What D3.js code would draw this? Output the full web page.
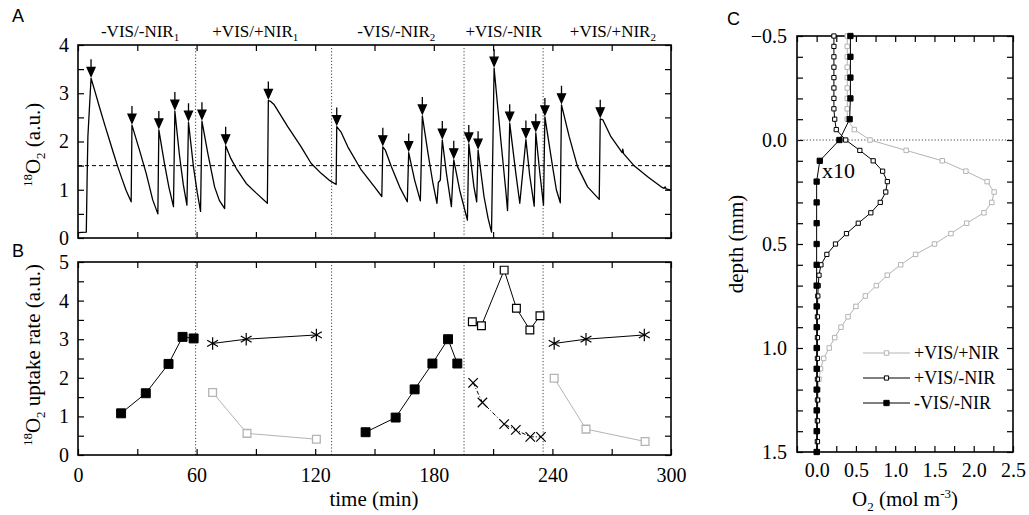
<!DOCTYPE html>
<html>
<head>
<meta charset="utf-8">
<script src="https://cdn.jsdelivr.net/npm/d3@7"></script>
<style>
  body { margin: 0; background: #fff; }
  svg text { font-family: "Liberation Serif", Tinos, "Times New Roman", "DejaVu Serif", serif; fill: #000; }
  svg text.letter { font-family: "Liberation Sans", Arimo, Arial, sans-serif; font-size: 18px; }
</style>
</head>
<body>
<svg id="svg" width="1029" height="515"></svg>
<script>
// ---- panel A: 18O2 signal [time (min), a.u.] ----
const trace = [
  [0,0.11],[4.2,0.12],[4.6,1.2],[5.0,2.1],[6.6,3.31],
  [8.5,3.05],[10.8,2.72],[13.5,2.35],[15.9,2.03],[18,1.75],[20.1,1.48],[22.3,1.22],[24.3,0.99],[26.9,0.75],
  [27.3,2.34],[29.2,2.08],[31.1,1.82],[34.5,1.34],[37.8,0.79],[40.4,0.5],
  [40.9,2.24],[43.7,1.55],[46,1.05],[48.3,0.65],
  [49.0,2.63],[51.4,1.69],[53.3,1.1],[55.1,0.68],
  [55.9,2.4],[58.4,1.48],[60.3,0.95],[62.0,0.55],
  [62.7,2.42],[65.7,1.75],[69.1,1.06],[71.5,0.78],[74.2,0.61],
  [74.7,1.91],[77.3,1.65],[80.1,1.44],[85.1,1.13],[90.2,0.93],[95.8,0.72],
  [96.3,2.85],[97.5,2.83],[99.3,2.76],[106.1,2.31],[112.9,1.89],[117.9,1.55],[123.0,1.34],[127,1.2],[130.6,1.11],
  [130.9,2.31],[133,2.2],[136.5,1.89],[143.3,1.41],[150.0,1.06],[153.7,0.86],
  [154.2,1.89],[155.5,1.82],[158.5,1.48],[162.7,1.06],[166.6,0.75],
  [167.3,1.77],[170.3,1.2],[173.2,0.77],
  [174.2,2.53],[177.1,1.75],[179.5,1.15],[181.6,0.72],[182.3,1.15],[183.3,1.2],
  [184.3,2.03],[186.4,1.34],[188.9,0.65],
  [190.1,1.62],[193.1,0.99],[197.0,0.37],
  [197.7,1.95],[200.3,1.06],[201.7,0.75],
  [202.4,1.82],[205.4,0.86],[207.5,0.4],[209.2,0.12],
  [210.5,3.52],[213.9,2.03],[216.4,0.99],[217.3,0.57],
  [217.8,1.27],[218.4,2.38],[221.5,1.34],[223.5,0.72],
  [226.6,2.04],[228.5,1.3],[230.8,0.66],
  [231.6,2.18],[233.5,1.4],[235.5,0.68],
  [236.2,2.51],[240.1,1.48],[242,1.0],[244.0,0.73],
  [244.6,2.76],[248.5,2.1],[252.7,1.48],[257.8,1.06],[263.7,0.8],
  [264.2,2.47],[265.5,2.45],[269.6,2.1],[275.3,1.77],[275.6,1.84],[276,1.75],[281.5,1.49],
  [288.2,1.27],[295.0,1.06],[296.5,1.03],[297,1.06],[297.5,1.02],[300,0.99]
];
// peaks marked with arrows
const pulses = [
  [6.6,3.31],[27.3,2.34],[40.9,2.24],[49.0,2.63],[55.9,2.4],[62.7,2.42],[74.7,1.91],[96.3,2.85],
  [130.9,2.31],[154.2,1.89],[167.3,1.77],[174.2,2.53],[184.3,2.03],[190.1,1.62],[197.7,1.95],
  [202.4,1.82],[210.5,3.52],[218.4,2.38],[226.6,2.04],[231.6,2.18],[236.2,2.51],[244.6,2.76],[264.2,2.47]
];
const phaseBounds = [59.5, 128.3, 195.3, 235.3];
const phaseNames = [["-VIS/-NIR","1"],["+VIS/+NIR","1"],["-VIS/-NIR","2"],["+VIS/-NIR",""],["+VIS/+NIR","2"]];
const phaseMid = [31.4, 89.7, 161, 215.4, 270.6];
const threshold = 1.5;

// ---- panel B: uptake rates [time (min), a.u.] ----
const darkRate1 = [[21.8,1.08],[34.3,1.6],[45.8,2.36],[52.9,3.06],[58.5,3.02]];
const darkRate2 = [[145.5,0.59],[160.7,0.97],[170.3,1.7],[179.3,2.37],[187.2,3.0],[191.9,2.37]];
const visRate = [[199.5,3.45],[204.1,3.35],[215.6,4.79],[221.8,3.8],[228.6,3.24],[233.7,3.61]];
const crossRate = [[199.9,1.87],[204.6,1.36],[215.6,0.8],[221.5,0.65],[228.8,0.47],[234.2,0.47]];
const starRate1 = [[68.1,2.89],[85.1,3.0],[120.6,3.11]];
const starRate2 = [[240.9,2.89],[257.0,3.0],[286.5,3.11]];
const grayRate1 = [[68.1,1.62],[85.5,0.56],[120.6,0.41]];
const grayRate2 = [[240.9,1.99],[257.0,0.67],[286.9,0.35]];

// ---- panel C: O2 profiles ----
const depthsFine = [-0.5,-0.45,-0.4,-0.35,-0.3,-0.25,-0.2,-0.15,-0.1,-0.05,0,0.05,0.1,0.15,0.2,0.25,0.3,0.35,0.4,0.45,
  0.5,0.55,0.6,0.65,0.7,0.75,0.8,0.85,0.9,0.95,1.0,1.05,1.1,1.15,1.2,1.25,1.3,1.35,1.4,1.45,1.5];
const depthsCoarse = [-0.5,-0.4,-0.3,-0.2,-0.1,0,0.1,0.2,0.3,0.4,0.5,0.6,0.7,0.8,0.9,1.0,1.1,1.2,1.3,1.4,1.5];
const o2VisNir = [0.39,0.39,0.39,0.39,0.39,0.39,0.39,0.39,0.39,
  0.48,0.68,1.14,1.6,1.9,2.17,2.26,2.23,2.13,1.91,1.71,1.5,1.26,1.07,0.9,0.76,0.62,0.5,0.4,0.31,0.23,
  0.16,0.09,0.05,0.03,0.02,0.02,0.01,0.01,0.01,0.01,0.01];
const o2Vis = [0.22,0.22,0.22,0.22,0.22,0.22,0.22,0.22,0.23,0.25,
  0.37,0.55,0.72,0.84,0.9,0.88,0.81,0.69,0.53,0.38,0.24,0.13,0.055,0.03,0.02,0.015,
  0.01,0.01,0.01,0.01,0.01,0.01,0.01,0.01,0.01,0.01,0.01,0.01,0.01,0.01,0.01];
const o2Dark = [0.43,0.43,0.43,0.43,0.42,0.29,0.04,0,0,0,0,0,0,0,0,0,0,0,0,0,0];
const legendNames = ["+VIS/+NIR", "+VIS/-NIR", "-VIS/-NIR"];

const gray = "#b4b4b4";
const serif = "'Liberation Serif', Tinos, 'Times New Roman', 'DejaVu Serif', serif";
const svg = d3.select("#svg").attr("font-family", serif);

const xA = d3.scaleLinear().domain([0, 300]).range([78, 671]);
const yA = d3.scaleLinear().domain([0, 4]).range([238, 45]);
const yB = d3.scaleLinear().domain([0, 5]).range([455, 262]);
const xC = d3.scaleLinear().domain([-0.25, 2.5]).range([797, 1013]);
const yC = d3.scaleLinear().domain([-0.5, 1.5]).range([36, 452]);

function drawAxes(xs, ys, o) {
  const [xl, xr] = xs.range();
  const yb = d3.max(ys.range()), yt = d3.min(ys.range());
  const fx = v => (o.xLab && o.xLab(v)) ? o.xFmt(v) : "";
  const fy = v => o.yLab(v) ? o.yFmt(v) : "";
  const gs = [
    svg.append("g").attr("transform", `translate(0,${yb})`)
      .call(d3.axisBottom(xs).tickValues(o.xTicks).tickSize(-o.tick).tickPadding(o.xPad || 0).tickFormat(fx)),
    svg.append("g").attr("transform", `translate(0,${yt})`)
      .call(d3.axisTop(xs).tickValues(o.xTicks).tickSize(-o.tick).tickFormat("")),
    svg.append("g").attr("transform", `translate(${xl},0)`)
      .call(d3.axisLeft(ys).tickValues(o.yTicks).tickSize(-o.tick).tickPadding(o.yPad).tickFormat(fy)),
    svg.append("g").attr("transform", `translate(${xr},0)`)
      .call(d3.axisRight(ys).tickValues(o.yTicks).tickSize(-o.tick).tickFormat(""))
  ];
  gs.forEach(g => {
    g.attr("font-family", serif).attr("font-size", 20);
    g.select(".domain").remove();
    g.selectAll(".tick line").attr("stroke", "#000").attr("stroke-width", 1.2);
  });
  svg.append("rect").attr("x", xl).attr("y", yt).attr("width", xr - xl).attr("height", yb - yt)
    .attr("fill", "none").attr("stroke", "#000").attr("stroke-width", 1.6);
}

const near = (v, s) => Math.abs(v / s - Math.round(v / s)) < 1e-6;
const t30 = d3.range(0, 11).map(i => i * 30);

// ---------- panel A ----------
drawAxes(xA, yA, {
  xTicks: t30, yTicks: d3.range(0, 9).map(i => i * 0.5), tick: 6,
  yLab: v => near(v, 1), yFmt: d3.format("d"), yPad: 9
});
svg.append("line").attr("x1", xA(0)).attr("x2", xA(300)).attr("y1", yA(threshold)).attr("y2", yA(threshold))
  .attr("stroke", "#000").attr("stroke-width", 1).attr("stroke-dasharray", "4,3");
[yA, yB].forEach(ys => {
  svg.append("g").selectAll("line").data(phaseBounds).join("line")
    .attr("x1", d => xA(d)).attr("x2", d => xA(d))
    .attr("y1", ys.range()[0]).attr("y2", ys.range()[1])
    .attr("stroke", "#444").attr("stroke-width", 1).attr("stroke-dasharray", "1.2,2");
});
svg.append("path").datum(trace)
  .attr("d", d3.line().x(d => xA(d[0])).y(d => yA(d[1])))
  .attr("fill", "none").attr("stroke", "#000").attr("stroke-width", 1.3).attr("stroke-linejoin", "round");
svg.append("g").selectAll("path").data(pulses).join("path")
  .attr("d", d => {
    const x = xA(d[0]), y = yA(d[1]) - 2;
    return `M${x},${y - 17}V${y - 8}M${x - 4},${y - 9}L${x + 4},${y - 9}L${x},${y}Z`;
  })
  .attr("fill", "#000").attr("stroke", "#000").attr("stroke-width", 1.3);
const heads = svg.append("g").selectAll("text").data(phaseNames).join("text")
  .attr("x", (d, i) => xA(phaseMid[i])).attr("y", 37)
  .attr("text-anchor", "middle").attr("font-size", 17);
heads.append("tspan").text(d => d[0]);
heads.append("tspan").attr("font-size", 11).attr("dy", 4).text(d => d[1]);

// ---------- panel B ----------
drawAxes(xA, yB, {
  xTicks: t30, yTicks: d3.range(0, 11).map(i => i * 0.5), tick: 6,
  xLab: v => near(v, 60), xFmt: d3.format("d"), xPad: 13,
  yLab: v => near(v, 1), yFmt: d3.format("d"), yPad: 9
});
const lineB = d3.line().x(d => xA(d[0])).y(d => yB(d[1]));
function series(data, stroke, dash, sym, size, fill, sw) {
  const g = svg.append("g");
  g.append("path").datum(data).attr("d", lineB).attr("fill", "none")
    .attr("stroke", stroke).attr("stroke-width", 1).attr("stroke-dasharray", dash);
  g.selectAll("path.m").data(data).join("path").attr("class", "m")
    .attr("transform", d => `translate(${xA(d[0])},${yB(d[1])})`)
    .attr("d", d3.symbol(sym, size)).attr("fill", fill).attr("stroke", stroke).attr("stroke-width", sw);
}
series(grayRate1, gray, null, d3.symbolSquare, 60, "#fff", 1.3);
series(grayRate2, gray, null, d3.symbolSquare, 60, "#fff", 1.3);
series(darkRate1, "#000", null, d3.symbolSquare, 80, "#000", 1);
series(darkRate2, "#000", null, d3.symbolSquare, 80, "#000", 1);
series(visRate, "#000", null, d3.symbolSquare, 60, "#fff", 1.2);
series(crossRate, "#000", "4,2,1,2", d3.symbolTimes, 60, "none", 1.2);
series(starRate1, "#000", null, d3.symbolAsterisk, 110, "none", 1.2);
series(starRate2, "#000", null, d3.symbolAsterisk, 110, "none", 1.2);

// ---------- panel C ----------
drawAxes(xC, yC, {
  xTicks: d3.range(0, 12).map(i => -0.25 + i * 0.25), yTicks: d3.range(0, 21).map(i => -0.5 + i * 0.1), tick: 6,
  xLab: v => near(v, 0.5), xFmt: d3.format(".1f"), xPad: 11,
  yLab: v => near(v, 0.5), yFmt: d3.format(".1f"), yPad: 10
});
svg.append("line").attr("x1", xC(-0.25)).attr("x2", xC(2.5)).attr("y1", yC(0)).attr("y2", yC(0))
  .attr("stroke", "#444").attr("stroke-width", 1).attr("stroke-dasharray", "1.2,2");
const lineC = d3.line().x(d => xC(d[1])).y(d => yC(d[0]));
function profile(depths, vals, stroke, size, fill) {
  const data = depths.map((d, i) => [d, vals[i]]);
  const g = svg.append("g");
  g.append("path").datum(data).attr("d", lineC).attr("fill", "none").attr("stroke", stroke).attr("stroke-width", 1);
  g.selectAll("path.m").data(data).join("path").attr("class", "m")
    .attr("transform", d => `translate(${xC(d[1])},${yC(d[0])})`)
    .attr("d", d3.symbol(d3.symbolSquare, size)).attr("fill", fill).attr("stroke", stroke).attr("stroke-width", 1);
}
profile(depthsFine, o2VisNir, gray, 20, "#fff");
profile(depthsFine, o2Vis, "#000", 18, "#fff");
profile(depthsCoarse, o2Dark, "#000", 28, "#000");
svg.append("text").attr("x", 822).attr("y", 178).attr("font-size", 22).text("x10");

const legStyle = [[gray, "#fff", 20], ["#000", "#fff", 18], ["#000", "#000", 28]];
const leg = svg.append("g").selectAll("g").data(legendNames).join("g")
  .attr("transform", (d, i) => `translate(863,${353 + i * 25})`);
leg.append("line").attr("x1", 0).attr("x2", 47)
  .attr("stroke", (d, i) => legStyle[i][0]).attr("stroke-width", 1);
leg.append("path").attr("transform", "translate(23.5,0)")
  .attr("d", (d, i) => d3.symbol(d3.symbolSquare, legStyle[i][2])())
  .attr("fill", (d, i) => legStyle[i][1]).attr("stroke", (d, i) => legStyle[i][0]);
leg.append("text").attr("x", 51).attr("dy", "0.35em").attr("font-size", 18).text(d => d);

// ---------- titles ----------
function yTitle(x, y, parts) {
  const t = svg.append("text").attr("transform", `translate(${x},${y}) rotate(-90)`)
    .attr("text-anchor", "middle").attr("font-size", 21);
  parts.forEach(p => t.append("tspan").attr("font-size", p[1]).attr("dy", p[2]).text(p[0]));
}
yTitle(40, 145, [["18", 13, -8], ["O", 21, 8], ["2", 13, 5], [" (a.u.)", 21, -5]]);
yTitle(40, 355, [["18", 13, -8], ["O", 21, 8], ["2", 13, 5], [" uptake rate (a.u.)", 21, -5]]);
yTitle(743, 244, [["depth (mm)", 21, 0]]);
svg.append("text").attr("x", 374).attr("y", 506).attr("text-anchor", "middle").attr("font-size", 21).text("time (min)");
const ox = svg.append("text").attr("x", 905).attr("y", 506).attr("text-anchor", "middle").attr("font-size", 21);
[["O", 21, 0], ["2", 13, 5], [" (mol m", 21, -5], ["-3", 13, -8], [")", 21, 8]]
  .forEach(p => ox.append("tspan").attr("font-size", p[1]).attr("dy", p[2]).text(p[0]));

svg.append("text").attr("class", "letter").attr("x", 12).attr("y", 22).text("A");
svg.append("text").attr("class", "letter").attr("x", 12).attr("y", 257).text("B");
svg.append("text").attr("class", "letter").attr("x", 727).attr("y", 25).text("C");
</script>
</body>
</html>
